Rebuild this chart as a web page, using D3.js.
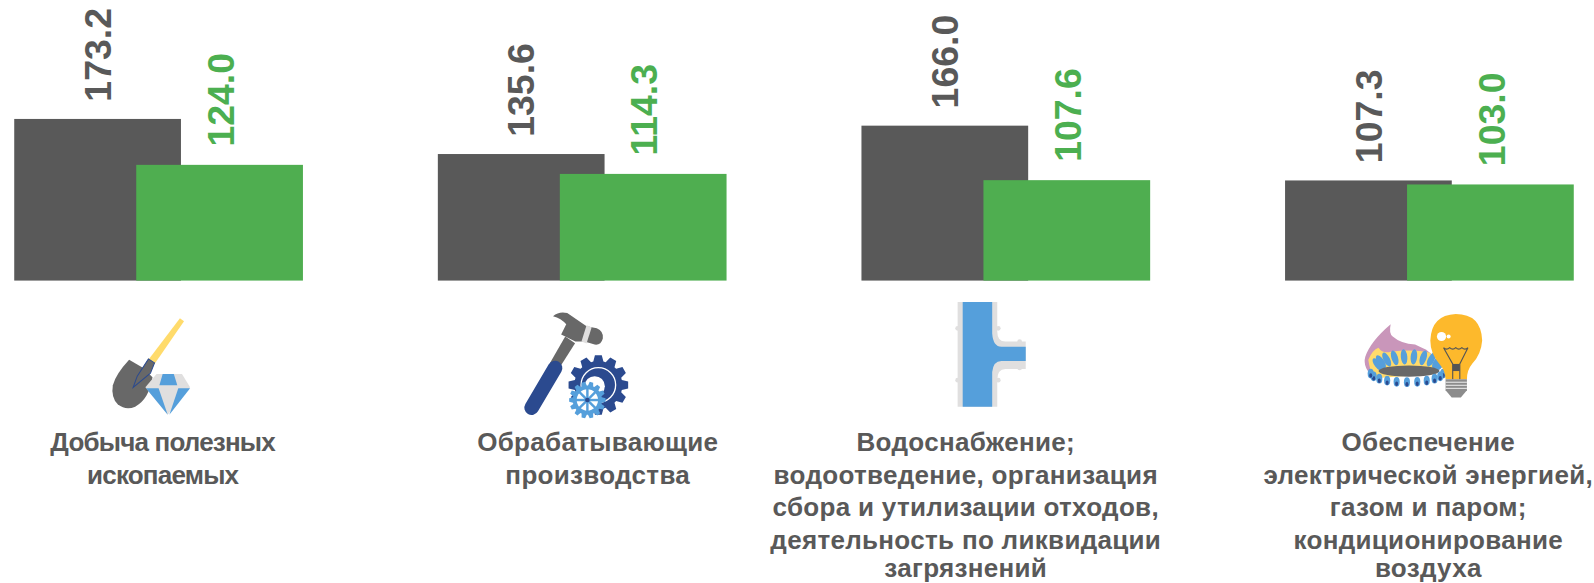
<!DOCTYPE html>
<html>
<head>
<meta charset="utf-8">
<script src="https://cdn.jsdelivr.net/npm/d3@7"></script>
<style>
    html, body { margin: 0; padding: 0; background: #fff; overflow: hidden; }
    text { font-family: "Liberation Sans", Arial, sans-serif; font-weight: bold; }
</style>
</head>
<body>
<div id="chart"></div>
<script>
const seriesNames = ['prev', 'curr'];
const prevValues = [173.2, 135.6, 166.0, 107.3];
const currValues = [124.0, 114.3, 107.6, 103.0];
const categoryLabels = [
    ['Добыча полезных', 'ископаемых'],
    ['Обрабатывающие', 'производства'],
    ['Водоснабжение;', 'водоотведение, организация', 'сбора и утилизации отходов,', 'деятельность по ликвидации', 'загрязнений'],
    ['Обеспечение', 'электрической энергией,', 'газом и паром;', 'кондиционирование', 'воздуха']
];

const width = 1594, height = 583;
const dark = '#595959', green = '#4fae50';
const blue = '#559fdb', navy = '#2b4a8f', grey = '#686868', light = '#e0dfdf', yellow = '#ffdb6b';

const svg = d3.select('#chart').append('svg')
    .attr('width', width)
    .attr('height', height)
    .style('display', 'block');

// everything below is laid out on a 1568 wide grid
const root = svg.append('g').attr('transform', `scale(${width / 1568})`);

const y = d3.scaleLinear().domain([0, 173.2]).range([276, 117]);
const barW = 164;
const step = 416.7;
const groupX = d3.scaleLinear().domain([0, 3]).range([14, 14 + 3 * step]);
const offset = d3.scaleOrdinal().domain(seriesNames).range([0, 120]);
const valueShift = d3.scaleOrdinal().domain(seriesNames).range([95, 96]);
const valueGap = d3.scaleOrdinal().domain(seriesNames).range([17, 18]);

const rows = seriesNames.map((s, si) => ({
    name: s,
    color: si ? green : dark,
    values: si ? currValues : prevValues
}));

rows.forEach(row => {
    root.selectAll('.bar-' + row.name)
        .data(row.values)
        .enter().append('rect')
        .attr('class', 'bar-' + row.name)
        .attr('x', (d, i) => groupX(i) + offset(row.name))
        .attr('y', d => y(d))
        .attr('width', barW)
        .attr('height', d => y(0) - y(d))
        .attr('fill', row.color);

    root.selectAll('.val-' + row.name)
        .data(row.values)
        .enter().append('text')
        .attr('class', 'val-' + row.name)
        .attr('transform', (d, i) => {
            const cx = groupX(i) + offset(row.name) + valueShift(row.name);
            return `translate(${cx},${y(d) - valueGap(row.name)}) rotate(-90)`;
        })
        .attr('font-size', 36.8)
        .attr('fill', row.name === 'prev' ? dark : '#4caf50')
        .text(d => d.toFixed(1));
});

const labelX = [160, 588, 950, 1405];
const labelBase = [[444, 476], [444, 476], [444, 476, 508, 540, 568], [444, 476, 508, 540, 568]];
const labelSpacing = [-0.8, 0.3, 0.3, 0.3];

categoryLabels.forEach((lines, i) => {
    root.append('g').selectAll('text')
        .data(lines)
        .enter().append('text')
        .attr('x', labelX[i])
        .attr('y', (d, j) => labelBase[i][j])
        .attr('text-anchor', 'middle')
        .attr('font-size', 25.6)
        .attr('letter-spacing', labelSpacing[i])
        .attr('fill', dark)
        .text(d => d);
});

// --- icons ---
function shovelIcon(g) {
    g.append('path').attr('d', 'M177 313 L181 316 L152 358 L146 354 Z').attr('fill', yellow);
    g.append('path').attr('d', 'M127 354 L141 362 L150 371 Q147 392 133 400 Q124 404 116 398 Q109 391 111 379 Q114 368 127 354 Z').attr('fill', grey);
    g.append('path').attr('d', 'M146 353 L152 357 L148 367 L131 381 L135 370 Z').attr('fill', grey).attr('stroke', navy).attr('stroke-width', 1);
    // diamond
    g.append('path').attr('d', 'M143 381 L154 368 L179 368 L187 381 L165 408 Z').attr('fill', light);
    g.append('path').attr('d', 'M160 368 L171 368 L174.4 379 L156.8 379 Z').attr('fill', blue);
    g.append('path').attr('d', 'M143.6 382 L156 382 L165 408 Z').attr('fill', blue);
    g.append('path').attr('d', 'M175.4 382 L187 382 L166.6 408 Z').attr('fill', blue);
}

function gear(g, cx, cy, r, teeth, color) {
    const pts = [];
    for (let i = 0; i < teeth; i++) {
        const a = (i / teeth) * 2 * Math.PI;
        const w = Math.PI / teeth / 1.6;
        [[r * 0.8, -w * 1.3], [r, -w * 0.7], [r, w * 0.7], [r * 0.8, w * 1.3]].forEach(p => {
            pts.push([cx + p[0] * Math.cos(a + p[1]), cy + p[0] * Math.sin(a + p[1])]);
        });
    }
    g.append('path').attr('d', d3.line()(pts) + 'Z').attr('fill', color);
}

function toolsIcon(g) {
    g.append('path').attr('d', 'M556 331 L565.7 337.7 L551 360.7 L541 357 Z').attr('fill', grey);
    g.append('line').attr('x1', 546).attr('y1', 362).attr('x2', 523).attr('y2', 401)
        .attr('stroke', navy).attr('stroke-width', 14.4).attr('stroke-linecap', 'round');
    g.append('path').attr('d', 'M544 311 Q550 306 558 308 L577 321 L587 323 Q594 326 593 333 Q591 340 585 339 L575 336 L566 336 L552 329 L557 319 Q552 313 544 311 Z').attr('fill', grey);
    g.append('path').attr('d', 'M577 320 L582 322 L577 338 L572 336 Z').attr('fill', light);
    // big gear
    gear(g, 588.6, 378.7, 29.5, 12, navy);
    g.append('circle').attr('cx', 588.6).attr('cy', 378.7).attr('r', 17).attr('fill', 'none').attr('stroke', '#fff').attr('stroke-width', 1.3);
    g.append('circle').attr('cx', 585).attr('cy', 380).attr('r', 10).attr('fill', '#fff');
    // small gear
    gear(g, 577.8, 393.5, 18, 14, blue);
    g.append('circle').attr('cx', 577.8).attr('cy', 393.5).attr('r', 10.5).attr('fill', '#fff');
    d3.range(8).forEach(i => {
        const a = i * Math.PI / 4;
        g.append('line')
            .attr('x1', 577.8).attr('y1', 393.5)
            .attr('x2', 577.8 + 12 * Math.cos(a)).attr('y2', 393.5 + 12 * Math.sin(a))
            .attr('stroke', blue).attr('stroke-width', 2.4);
    });
    g.append('circle').attr('cx', 577.8).attr('cy', 393.5).attr('r', 2.3).attr('fill', navy);
}

function pipeIcon(g) {
    g.append('path').attr('d', 'M942 297 H981 V326 Q981 336 989 336 H1009 V363 H989 Q981 363 981 374 V400 H942 Z').attr('fill', light);
    g.append('path').attr('d', 'M947 297 H976 V328 Q977 341 985 341 H1009 V355 H985 Q977 355 976 366 V400 H947 Z').attr('fill', blue);
    [[942, 323], [942, 374], [982, 323], [982, 374], [1003, 336], [1003, 362]].forEach(p => {
        g.append('circle').attr('cx', p[0]).attr('cy', p[1]).attr('r', 2.3).attr('fill', light);
    });
}

function burnerIcon(g) {
    // gas flame body
    g.append('path').attr('d', 'M1368 319 Q1366 328 1370 331 Q1378 338 1392 339 Q1398 342 1403 344 L1410 350 L1400 366 L1352 372 Q1340 362 1343 351 Q1348 336 1368 319 Z').attr('fill', '#c996ba');
    g.append('path').attr('d', 'M1346 354 Q1350 344 1356 342 Q1360 348 1368 346 Q1390 343 1407 347 L1412 368 L1351 372 Q1347 362 1346 354 Z').attr('fill', yellow);
    // blue flame tongues round the ring
    d3.range(10).forEach(i => {
        const a = Math.PI + (i + 0.5) / 10 * Math.PI;
        const cx = 1386 + 31 * Math.cos(a), cy = 360 + 9 * Math.sin(a);
        g.append('ellipse')
            .attr('rx', 3.2).attr('ry', 7.5)
            .attr('transform', `translate(${cx},${cy}) rotate(${Math.cos(a) * 38})`)
            .attr('fill', blue);
    });
    g.append('ellipse').attr('cx', 1386).attr('cy', 365).attr('rx', 30).attr('ry', 5.5).attr('fill', grey);
    d3.range(11).forEach(i => {
        const a = (i + 0.5) / 11 * Math.PI;
        const cx = 1384 + 36 * Math.cos(a), cy = 366 + 10 * Math.sin(a);
        g.append('ellipse').attr('cx', cx).attr('cy', cy).attr('rx', 3).attr('ry', 4.8).attr('fill', blue);
        g.append('ellipse').attr('cx', cx).attr('cy', cy + 2).attr('rx', 1.5).attr('ry', 2.2).attr('fill', navy);
    });
    // bulb
    g.append('path').attr('d', 'M1432 309 Q1457 309 1458 335 Q1457 349 1448 358 Q1443 364 1443 373 L1422 373 Q1422 365 1416 358 Q1407 348 1407 335 Q1408 310 1432 309 Z').attr('fill', '#fdb92c');
    g.append('circle').attr('cx', 1418).attr('cy', 331).attr('r', 4.5).attr('fill', '#fff');
    g.append('circle').attr('cx', 1425).attr('cy', 331).attr('r', 2).attr('fill', '#fff');
    g.append('path').attr('d', 'M1420 342 Q1423 345 1426 342 Q1429 345 1432 342 Q1435 345 1438 342 Q1441 345 1444 342 L1436 358 V373 M1420 342 L1429 358 V373').attr('fill', 'none').attr('stroke', '#555').attr('stroke-width', 1.1);
    g.append('rect').attr('x', 1429).attr('y', 358).attr('width', 7).attr('height', 7).attr('fill', '#555');
    g.append('path').attr('d', 'M1422 373 H1443 V384 L1437 391 H1428 L1422 384 Z').attr('fill', '#8c8c8c');
    d3.range(3).forEach(i => {
        g.append('line').attr('x1', 1422).attr('x2', 1443).attr('y1', 376 + i * 3).attr('y2', 376 + i * 3).attr('stroke', '#eee').attr('stroke-width', 1);
    });
}

const icons = root.append('g');
shovelIcon(icons.append('g'));
toolsIcon(icons.append('g'));
pipeIcon(icons.append('g'));
burnerIcon(icons.append('g'));
</script>
</body>
</html>
